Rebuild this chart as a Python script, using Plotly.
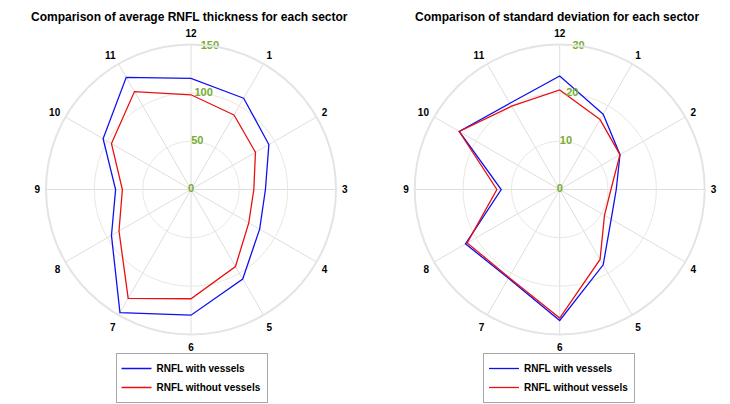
import plotly.graph_objects as go

# ---- data ----
sectors = [1, 2, 3, 4, 5, 6, 7, 8, 9, 10, 11, 12]
sector_labels = ["1", "2", "3", "4", "5", "6", "7", "8", "9", "10", "11", "12"]

thick_with = [109, 93, 77, 82, 107, 130, 147, 95, 78, 105, 134, 115]
thick_without = [89, 77, 65, 69, 92, 113, 130, 86, 71, 95, 117, 98]

std_with = [18.0, 14.4, 11.7, 12.3, 18.0, 27.1, 21.2, 22.5, 12.1, 24.0, 20.6, 23.5]
std_without = [16.7, 14.4, 10.6, 10.7, 16.7, 26.6, 21.0, 22.1, 13.0, 24.0, 19.9, 20.6]

thick_ticks = [0, 50, 100, 150]
std_ticks = [0, 10, 20, 30]

titles = ["Comparison of average RNFL thickness for each sector",
          "Comparison of standard deviation for each sector"]
names = ["RNFL with vessels", "RNFL without vessels"]

# ---- style ----
FONT = "Liberation Sans, Arial, Helvetica, sans-serif"
BLUE = "#1010f0"
RED = "#e81010"
GREEN = "#77AC30"
OFF = 8            # page body margin
W, H = 722, 396    # figure size (window 730x404 minus body margin)


def px(sx):
    return (sx - OFF) / W


def py(sy):
    return 1 - (sy - OFF) / H


def closed(vals):
    return list(vals) + [vals[0]]


theta = [(s % 12) * 30 for s in sectors]
theta_c = closed(theta)

fig = go.Figure()

panels = [
    ("polar", thick_with, thick_without, thick_ticks, "legend"),
    ("polar2", std_with, std_without, std_ticks, "legend2"),
]
for sub, vw, vwo, ticks, leg in panels:
    fig.add_trace(go.Scatterpolar(r=closed(vw), theta=theta_c, mode="lines",
                                  line=dict(color=BLUE, width=1.3),
                                  name=names[0], subplot=sub, legend=leg))
    fig.add_trace(go.Scatterpolar(r=closed(vwo), theta=theta_c, mode="lines",
                                  line=dict(color=RED, width=1.3),
                                  name=names[1], subplot=sub, legend=leg))
    fig.add_trace(go.Scatterpolar(r=ticks, theta=[7.5] * len(ticks), mode="text",
                                  text=[str(t) for t in ticks],
                                  textfont=dict(color=GREEN, size=11, family=FONT, weight="bold"),
                                  textposition="middle center", cliponaxis=False,
                                  showlegend=False, hoverinfo="skip", subplot=sub))

CY, R = 189.5, 145


def polar_layout(cx, ticks):
    return dict(
        domain=dict(x=[px(cx - R), px(cx + R)], y=[py(CY + R), py(CY - R)]),
        bgcolor="white",
        radialaxis=dict(range=[0, ticks[-1]], tickvals=ticks, showticklabels=False,
                        ticks="", showline=False, gridcolor="#ebe8dc", gridwidth=1),
        angularaxis=dict(rotation=90, direction="clockwise", thetaunit="degrees",
                         tickvals=theta, ticktext=sector_labels,
                         tickfont=dict(size=10, color="black", family=FONT, weight="bold"),
                         ticks="outside", ticklen=3, tickcolor="rgba(0,0,0,0)",
                         showline=True, linecolor="#e4e4e4", linewidth=2,
                         gridcolor="#dedede", gridwidth=1),
    )


legend_style = dict(yanchor="top", xanchor="center", y=py(353),
                    bordercolor="#a8a8a8", borderwidth=1, bgcolor="white",
                    font=dict(size=10, family=FONT, weight="bold"), tracegroupgap=0)

fig.update_layout(
    width=W, height=H,
    margin=dict(l=0, r=0, t=0, b=0, autoexpand=False),
    paper_bgcolor="white",
    font=dict(family=FONT, color="black"),
    polar=polar_layout(191, thick_ticks),
    polar2=polar_layout(559.7, std_ticks),
    legend=dict(x=px(191.5), **legend_style),
    legend2=dict(x=px(559), **legend_style),
    annotations=[
        dict(text=titles[0], x=px(189.5), y=py(17), xref="paper", yref="paper",
             showarrow=False, xanchor="center", yanchor="middle",
             font=dict(size=12, family=FONT, weight="bold")),
        dict(text=titles[1], x=px(556.5), y=py(17), xref="paper", yref="paper",
             showarrow=False, xanchor="center", yanchor="middle",
             font=dict(size=12, family=FONT, weight="bold")),
    ],
)

fig.write_html("out.html")
